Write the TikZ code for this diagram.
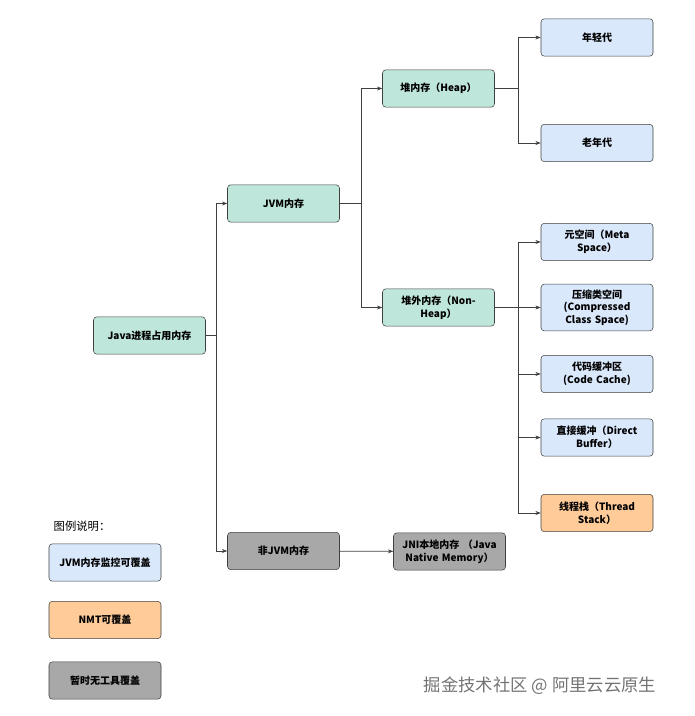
\documentclass[tikz,border=0pt]{standalone}
\usepackage{fontspec}
\setmainfont{Noto Sans CJK SC}
\usetikzlibrary{arrows.meta}
\definecolor{gfill}{HTML}{BFE6DA}
\definecolor{bfill}{HTML}{DAE8FC}
\definecolor{ofill}{HTML}{FFCC99}
\definecolor{kfill}{HTML}{A8A8A8}
\begin{document}
\begin{tikzpicture}[x=0.75pt,y=-0.75pt,
 box/.style={draw=black!75,rounded corners=2.5pt,minimum width=84pt,minimum height=28pt,align=center,text width=78pt,font=\fontsize{7.5}{9.5}\selectfont\bfseries,inner sep=1pt},
 g/.style={box,fill=gfill}, b/.style={box,fill=bfill}, o/.style={box,fill=ofill}, k/.style={box,fill=kfill},
 con/.style={draw=black!75,line width=0.5pt,-{Stealth[length=4pt,width=3pt]}}]
\useasboundingbox (0,0) rectangle (694,716);
\node[g] (java) at (149.5,335.5) {Java进程占用内存};
\node[g] (jvm) at (283.5,203.5) {JVM内存};
\node[k] (njvm) at (283.5,551) {非JVM内存};
\node[g] (heap) at (438.5,88.5) {堆内存（Heap）};
\node[g] (nheap) at (438.5,307.5) {堆外内存（Non-Heap）};
\node[k] (jni) at (449.5,551.5) {JNI本地内存 （Java Native Memory）};
\node[b] (young) at (597,37.5) {年轻代};
\node[b] (old) at (597,143) {老年代};
\node[b] (meta) at (597,242) {元空间（Meta Space）};
\node[b,minimum height=35pt] (ccs) at (597,307.5) {压缩类空间 (Compressed Class Space)};
\node[b] (code) at (597,374) {代码缓冲区 (Code Cache)};
\node[b] (direct) at (597,437.5) {直接缓冲（Direct Buffer）};
\node[o] (thread) at (597,513) {线程栈（Thread Stack）};
\node[font=\fontsize{8.5}{10}\selectfont] (lt) at (82,526) {图例说明：};
\node[b] (l1) at (105,562.5) {JVM内存监控可覆盖};
\node[o] (l2) at (105,620) {NMT可覆盖};
\node[k] (l3) at (105,680.5) {暂时无工具覆盖};
\node[text=black!55,font=\fontsize{13}{15}\selectfont] (wm) at (540,686) {掘金技术社区 @ 阿里云云原生};
\foreach \t in {jvm,njvm} \draw[con] (java.east) -- ++(11,0) |- (\t.west);
\foreach \t in {heap,nheap} \draw[con] (jvm.east) -- ++(22,0) |- (\t.west);
\foreach \t in {young,old} \draw[con] (heap.east) -- ++(24,0) |- (\t.west);
\foreach \t in {meta,ccs,code,direct,thread} \draw[con] (nheap.east) -- ++(24,0) |- (\t.west);
\draw[con] (njvm) -- (jni);
\end{tikzpicture}
\end{document}
